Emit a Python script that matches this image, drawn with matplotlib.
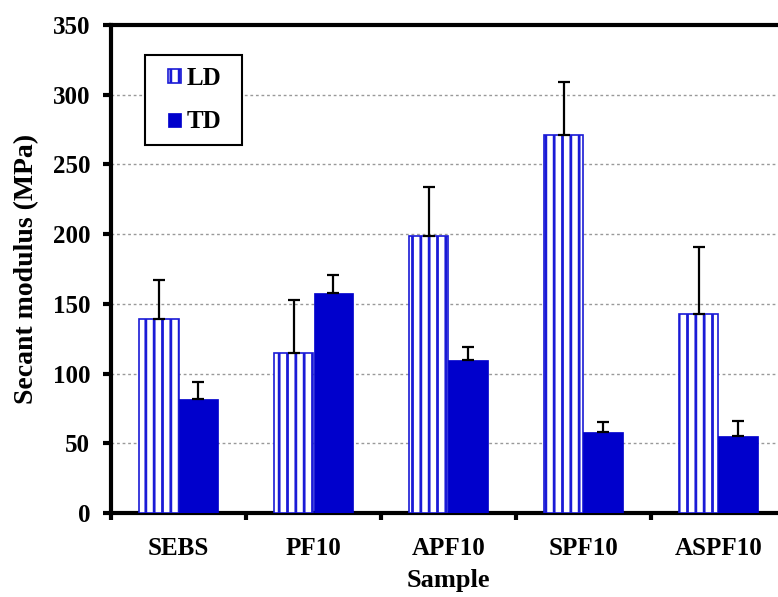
import matplotlib
matplotlib.use("Agg")
import matplotlib.pyplot as plt
from matplotlib.patches import Rectangle
import numpy as np

categories = ["SEBS", "PF10", "APF10", "SPF10", "ASPF10"]
ld_values = [139, 115, 199, 271, 143]
ld_errors = [28, 38, 35, 38, 48]
td_values = [82, 158, 110, 58, 55]
td_errors = [12, 13, 9, 7, 11]
y_ticks = [0, 50, 100, 150, 200, 250, 300, 350]

plt.rcParams['font.family'] = ['Liberation Serif', 'DejaVu Serif']
plt.rcParams['font.weight'] = 'bold'
plt.rcParams['hatch.linewidth'] = 2.0
plt.rcParams['hatch.color'] = '#1a1ad6'

W, H = 778, 597
fig = plt.figure(figsize=(W / 100, H / 100), dpi=100)
left, right_px, top, bottom = 111, 786, 25, 513
ax = fig.add_axes([left / W, (H - bottom) / H, (right_px - left) / W, (bottom - top) / H])

def px2ax(px, py):
    return ((px - left) / (right_px - left), 1 - (py - top) / (bottom - top))

x = np.arange(len(categories))
bw = 0.29
blue = '#0000CC'

ax.bar(x - bw / 2, ld_values, bw, facecolor='white', edgecolor='#1a1ad6',
       hatch='||', linewidth=1.2, label='LD', zorder=3)
ax.bar(x + bw / 2, td_values, bw, facecolor=blue, edgecolor=blue,
       linewidth=0.5, label='TD', zorder=3)

ax.errorbar(x - bw / 2, ld_values, yerr=[np.zeros(len(x)), ld_errors], fmt='none',
            ecolor='black', elinewidth=1.6, capsize=4, capthick=1.6, zorder=4)
ax.errorbar(x + bw / 2, td_values, yerr=[np.zeros(len(x)), td_errors], fmt='none',
            ecolor='black', elinewidth=1.6, capsize=4, capthick=1.6, zorder=4)

ax.set_xlim(-0.5, 4.5)
ax.set_ylim(0, 350)
ax.set_yticks(y_ticks)
ax.set_yticklabels([str(v) for v in y_ticks], fontsize=18, fontweight='bold')
ax.set_xticks(np.arange(-0.5, 4.6, 1.0))
ax.set_xticklabels([])
ax.set_xticks(x, minor=True)
ax.set_xticklabels(categories, minor=True, fontsize=18, fontweight='bold')
ax.tick_params(axis='x', which='minor', length=0, pad=17)
ax.tick_params(axis='x', which='major', direction='out', length=5, width=3)
ax.tick_params(axis='y', direction='out', length=6, width=3, pad=9)

for v in y_ticks[1:-1]:
    ax.axhline(v, color='#999999', linestyle=(0, (2, 2)), linewidth=1.0, zorder=1)

for s in ['left', 'bottom', 'top']:
    ax.spines[s].set_linewidth(3)
ax.spines['right'].set_visible(False)

ax.set_ylabel('Secant modulus (MPa)', fontsize=20, fontweight='bold', labelpad=10)
ax.set_xlabel('Sample', fontsize=19, fontweight='bold', labelpad=7)

leg = ax.legend(loc='upper left', bbox_to_anchor=px2ax(168, 67),
                frameon=False, fontsize=18, handlelength=0.5, handleheight=0.5,
                labelspacing=0.82, borderpad=0, handletextpad=0.25, borderaxespad=0)
for t in leg.get_texts():
    t.set_fontweight('bold')

x0, y0 = px2ax(145, 145)
x1, y1 = px2ax(242, 55)
ax.add_patch(Rectangle((x0, y0), x1 - x0, y1 - y0, transform=ax.transAxes,
                       facecolor='white', edgecolor='black', linewidth=1.5, zorder=5))
leg.set_zorder(6)

fig.savefig('out.png', dpi=100)
